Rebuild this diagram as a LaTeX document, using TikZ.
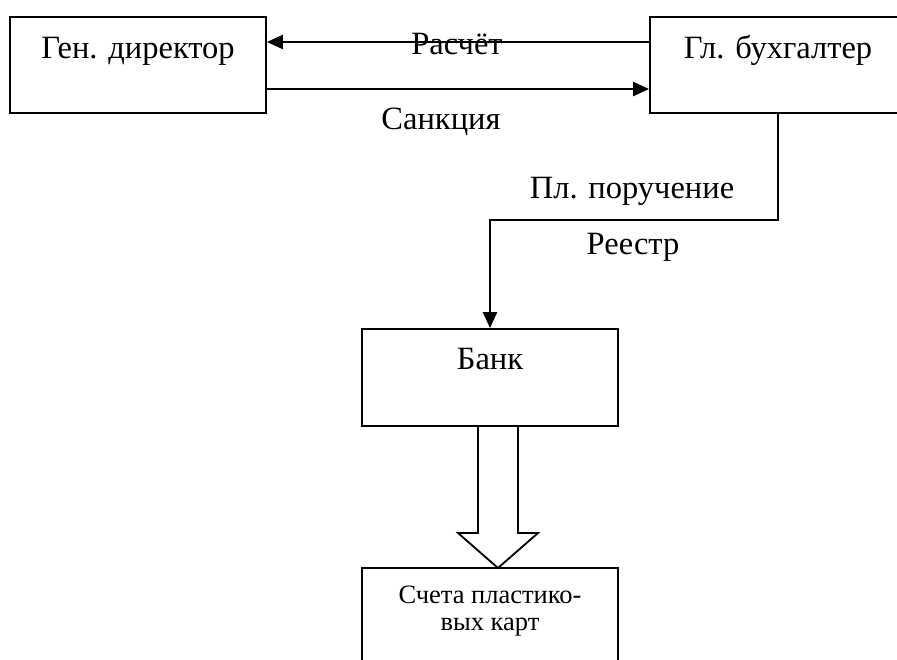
\documentclass[tikz,border=0pt]{standalone}
\usepackage{fontspec}
\setmainfont{Liberation Serif}
\usetikzlibrary{arrows.meta}
\begin{document}
\begin{tikzpicture}[x=1pt,y=-1pt,
  box/.style={draw,line width=1.8pt,minimum width=256pt,inner sep=0pt},
  big/.style={font=\fontsize{32.5}{36}\selectfont,inner sep=0pt},
  small/.style={font=\fontsize{26.5}{27}\selectfont,inner sep=0pt,align=center},
  flow/.style={line width=2.3pt,-{Triangle[length=16pt,width=14pt]}}]
\useasboundingbox (0,0) rectangle (897,660);
\clip (0,0) rectangle (897,660);
\node[box,minimum height=96pt] (gen) at (138,65) {};
\node[box,minimum height=96pt] (buh) at (778,65) {};
\node[box,minimum height=97pt] (bank) at (490,377.5) {};
\node[box,minimum height=104pt] (cards) at (490,620) {};
\node[big,anchor=base] (tgen) at (138,59) {Ген. директор};
\node[big,anchor=base] (tbuh) at (778,59) {Гл. бухгалтер};
\node[big,anchor=base] (tbank) at (490,370) {Банк};
\node[small,anchor=base] (tcards) at (490,630) {Счета пластико-\\вых карт};
\draw[flow] (buh.west |- 0,42) -- (gen.east |- 0,42);
\draw[flow] (gen.east |- 0,89) -- (buh.west |- 0,89);
\node[big,anchor=base] (lras) at (457,55) {Расчёт};
\node[big,anchor=base] (lsan) at (441,130) {Санкция};
\draw[flow] (buh.south) -- (778,220) -| (bank.north);
\node[big,anchor=base] (lpl) at (632,199) {Пл. поручение};
\node[big,anchor=base] (lre) at (633,255) {Реестр};
\draw[line width=1.8pt,line join=miter] (478,426) -- (478,533) -- (458,533) -- (498,568) -- (538,533) -- (518,533) -- (518,426);
\end{tikzpicture}
\end{document}
